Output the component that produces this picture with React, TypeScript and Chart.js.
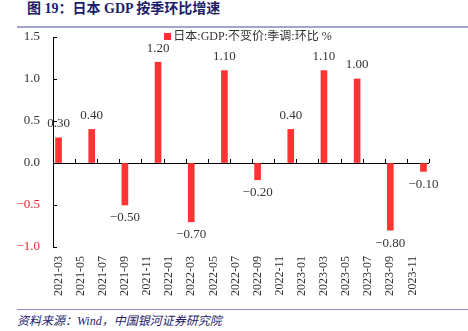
import React, { useEffect, useRef } from "react";
import { Chart, registerables } from "chart.js";

Chart.register(...registerables);

const months: string[] = [
  "2021-03","2021-04","2021-05","2021-06","2021-07","2021-08","2021-09","2021-10","2021-11","2021-12",
  "2022-01","2022-02","2022-03","2022-04","2022-05","2022-06","2022-07","2022-08","2022-09","2022-10","2022-11","2022-12",
  "2023-01","2023-02","2023-03","2023-04","2023-05","2023-06","2023-07","2023-08","2023-09","2023-10","2023-11","2023-12",
];
const quarterMonths: string[] = [
  "2021-03","2021-06","2021-09","2021-12",
  "2022-03","2022-06","2022-09","2022-12",
  "2023-03","2023-06","2023-09","2023-12",
];
const gdpQoQ: number[] = [0.3, 0.4, -0.5, 1.2, -0.7, 1.1, -0.2, 0.4, 1.1, 1.0, -0.8, -0.1];
const yTicks: number[] = [-1.0, -0.5, 0.0, 0.5, 1.0, 1.5];
const seriesName = "日本:GDP:不变价:季调:环比 %";

const SERIF = "'Liberation Serif', 'Times New Roman', 'Noto Sans CJK SC', serif";
const BAR_COLOR = "#ff3333";
const TEXT = "#333333";

const fmtNum = (v: number, d: number) => (v < 0 ? "\u2212" + Math.abs(v).toFixed(d) : v.toFixed(d));

export default function App() {
  const ref = useRef<HTMLCanvasElement>(null);
  useEffect(() => {
    if (!ref.current) return;
    const values = months.map((m) => {
      const i = quarterMonths.indexOf(m);
      return i >= 0 ? gdpQoQ[i] : null;
    });

    const decor = {
      id: "decor",
      afterDatasetsDraw(chart: any) {
        const { ctx, chartArea, scales } = chart;
        const x = scales.x;
        const y = scales.y;
        const y0 = y.getPixelForValue(0);
        ctx.save();
        ctx.strokeStyle = "#000";
        ctx.lineWidth = 1;
        ctx.beginPath();
        for (let i = 2; i <= months.length; i += 2) {
          const px = i < months.length
            ? (x.getPixelForValue(i) + x.getPixelForValue(i - 1)) / 2
            : chartArea.right;
          const rx = Math.round(px) + 0.5;
          ctx.moveTo(rx, y0);
          ctx.lineTo(rx, y0 - 4);
        }
        for (const t of yTicks) {
          const py = Math.round(y.getPixelForValue(t)) + 0.5;
          ctx.moveTo(chartArea.left, py);
          ctx.lineTo(chartArea.left + 4, py);
        }
        ctx.stroke();

        // data labels
        const meta = chart.getDatasetMeta(0);
        ctx.font = "13px " + SERIF;
        ctx.fillStyle = TEXT;
        ctx.textAlign = "center";
        ctx.textBaseline = "middle";
        meta.data.forEach((bar: any, i: number) => {
          const v = values[i];
          if (v === null || v === undefined) return;
          const ty = v >= 0 ? bar.y - 14 : bar.y + 13;
          ctx.fillText(fmtNum(v, 2), bar.x, ty);
        });

        // legend
        ctx.font = "12px " + SERIF;
        const label = chart.data.datasets[0].label as string;
        const tw = ctx.measureText(label).width;
        const box = 7;
        const gap = 2;
        const total = box + gap + tw;
        const cx = (chartArea.left + chartArea.right) / 2 + 7;
        const lx = cx - total / 2;
        const ly = chartArea.top - 1;
        ctx.fillStyle = BAR_COLOR;
        ctx.fillRect(Math.round(lx), Math.round(ly - 3), box, box);
        ctx.fillStyle = TEXT;
        ctx.textAlign = "left";
        ctx.fillText(label, lx + box + gap, ly + 1);
        ctx.restore();
      },
    };

    const chart = new Chart(ref.current, {
      type: "bar",
      data: {
        labels: months,
        datasets: [
          {
            label: seriesName,
            data: values as any,
            backgroundColor: BAR_COLOR,
            borderWidth: 0,
            barThickness: 6,
          },
        ],
      },
      options: {
        animation: false,
        responsive: false,
        devicePixelRatio: 1,
        layout: { padding: { top: 7, right: 39, left: 0, bottom: 0 } },
        plugins: {
          tooltip: { enabled: false },
          legend: { display: false },
        },
        scales: {
          x: {
            type: "category",
            grid: { display: false, drawTicks: false },
            border: { display: false },
            ticks: {
              autoSkip: false,
              minRotation: 90,
              maxRotation: 90,
              padding: 9,
              color: TEXT,
              font: { size: 12, family: SERIF },
              callback: (_v: any, idx: number) => (idx % 2 === 0 ? months[idx] : ""),
            },
            afterFit: (s: any) => {
              s.height = 58;
              s.paddingLeft = 0; s.paddingRight = 0; s.paddingTop = 0; s.paddingBottom = 0;
            },
          },
          y: {
            min: -1,
            max: 1.5,
            afterBuildTicks: (s: any) => { s.ticks = yTicks.map((v) => ({ value: v })); },
            grid: {
              drawTicks: false,
              color: (c: any) => (c.tick && c.tick.value === 0 ? "#000" : "rgba(0,0,0,0)"),
            },
            border: { display: true, color: "#000", width: 1 },
            ticks: {
              padding: 13,
              color: (c: any) => (c.tick && c.tick.value < 0 ? "#e0282e" : TEXT),
              font: { size: 13, family: SERIF },
              callback: (v: any) => fmtNum(Number(v), 1),
            },
            afterFit: (s: any) => {
              s.width = 53;
              s.paddingLeft = 0; s.paddingRight = 0; s.paddingTop = 0; s.paddingBottom = 0;
            },
          },
        },
      },
      plugins: [decor],
    });
    return () => chart.destroy();
  }, []);

  return (
    <div style={{ position: "absolute", left: 0, top: 0, width: 468, height: 331, background: "#fff", overflow: "hidden" }}>
      <div
        style={{
          position: "absolute", left: 27, top: 0, height: 18, lineHeight: "18px",
          fontFamily: SERIF, fontWeight: "bold", fontSize: 14, color: "#1c1c6b", whiteSpace: "nowrap",
        }}
      >
        图 19：日本 GDP 按季环比增速
      </div>
      <div style={{ position: "absolute", left: 17, top: 26, width: 451, height: 2, background: "#a3a3d6" }} />
      <canvas ref={ref} width={468} height={275} style={{ position: "absolute", left: 0, top: 30, width: 468, height: 275 }} />
      <div style={{ position: "absolute", left: 17, top: 309, width: 451, height: 1, background: "#8e8ecc" }} />
      <div
        style={{
          position: "absolute", left: 17, top: 312, height: 18, lineHeight: "18px",
          fontFamily: SERIF, fontStyle: "italic", fontSize: 12, color: "#1c1c6b", whiteSpace: "nowrap",
        }}
      >
        资料来源：Wind，中国银河证券研究院
      </div>
    </div>
  );
}
